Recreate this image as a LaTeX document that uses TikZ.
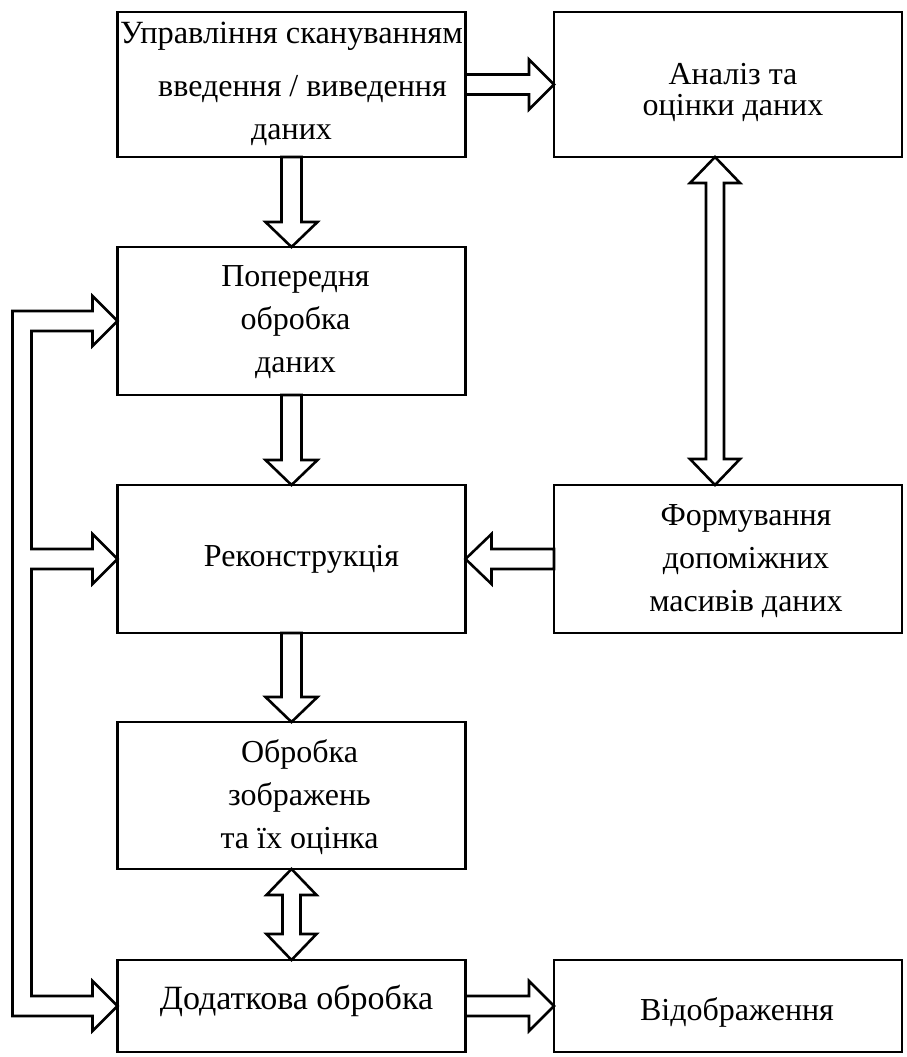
\documentclass[tikz,border=0pt]{standalone}
\usepackage{fontspec}
\setmainfont{Liberation Serif}
\usetikzlibrary{calc}
\tikzset{
  box/.style={draw, line width=2.6pt, minimum width=348pt, inner sep=0pt, outer sep=0pt},
  txt/.style={align=center, inner sep=0pt, font=\fontsize{32}{43}\selectfont},
  blk/.style={draw, fill=white, line width=2.6pt, line join=miter}
}
\newcommand\rarrow[2]{\draw[blk] let \p1=(#1), \p2=(#2) in (\x1,\y1+10pt) -- (\x2-25pt,\y1+10pt) -- (\x2-25pt,\y1+25pt) -- (\x2,\y1) -- (\x2-25pt,\y1-25pt) -- (\x2-25pt,\y1-10pt) -- (\x1,\y1-10pt) -- cycle;}
\newcommand\larrow[2]{\draw[blk] let \p1=(#1), \p2=(#2) in (\x1,\y1+10pt) -- (\x2+26pt,\y1+10pt) -- (\x2+26pt,\y1+25pt) -- (\x2,\y1) -- (\x2+26pt,\y1-25pt) -- (\x2+26pt,\y1-10pt) -- (\x1,\y1-10pt) -- cycle;}
\newcommand\darrow[2]{\draw[blk] let \p1=(#1), \p2=(#2) in (\x1-10pt,\y1) -- (\x1-10pt,\y2+25pt) -- (\x1-26pt,\y2+25pt) -- (\x1,\y2) -- (\x1+26pt,\y2+25pt) -- (\x1+10pt,\y2+25pt) -- (\x1+10pt,\y1) -- cycle;}
\newcommand\dblv[2]{\draw[blk] let \p1=(#1), \p2=(#2) in (\x1,\y1) -- (\x1+25pt,\y1-26pt) -- (\x1+9pt,\y1-26pt) -- (\x1+9pt,\y2+26pt) -- (\x1+25pt,\y2+26pt) -- (\x1,\y2) -- (\x1-25pt,\y2+26pt) -- (\x1-9pt,\y2+26pt) -- (\x1-9pt,\y1-26pt) -- (\x1-25pt,\y1-26pt) -- cycle;}
\begin{document}
\begin{tikzpicture}[x=1pt,y=-1pt]
\useasboundingbox (0,0) rectangle (907,1057);
% boxes
\node[box, minimum height=145pt] (b1) at (291.5,84.5) {};
\node[box, minimum height=145pt] (b2) at (728,84.5) {};
\node[box, minimum height=148pt] (b3) at (291.5,321) {};
\node[box, minimum height=148pt] (b4) at (291.5,559) {};
\node[box, minimum height=148pt] (b5) at (728,559) {};
\node[box, minimum height=147pt] (b6) at (291.5,795.5) {};
\node[box, minimum height=92pt] (b7) at (291.5,1006) {};
\node[box, minimum height=92pt] (b8) at (728,1006) {};
% texts
\node[txt] (t1) at ($(b1)+(0,-1)$) {{\fontsize{32.4}{43}\selectfont Управління скануванням}\\[10pt]\hspace*{22pt}введення / виведення\\[0pt]даних};
\node[txt] (t2) at ($(b2)+(5,8)$) {Аналіз та\\[-12pt]оцінки даних};
\node[txt] (t3) at ($(b3)+(4,1)$) {Попередня\\обробка\\даних};
\node[txt] (t4) at ($(b4)+(10,0)$) {Реконструкція};
\node[txt] (t5) at ($(b5)+(18,2)$) {Формування\\допоміжних\\масивів даних};
\node[txt] (t6) at ($(b6)+(8,2)$) {Обробка\\зображень\\та їх оцінка};
\node[txt, font=\fontsize{34}{43}\selectfont] (t7) at ($(b7)+(5,-5)$) {Додаткова обробка};
\node[txt] (t8) at ($(b8)+(9,6)$) {Відображення};
% arrows
\rarrow{b1.east}{b2.west}
\darrow{b1.south}{b3.north}
\darrow{b3.south}{b4.north}
\darrow{b4.south}{b6.north}
\larrow{b5.west}{b4.east}
\rarrow{b7.east}{b8.west}
\coordinate (u2) at ($(b2.south)+(-13,0)$);
\coordinate (u5) at ($(b5.north)+(-13,0)$);
\dblv{u2}{u5}
\dblv{b6.south}{b7.north}
% left feedback pipe
\draw[blk] let \p3=(b3.west), \p4=(b4.west), \p7=(b7.west) in
  (\p3) -- (\x3-25pt,\y3+25pt) -- (\x3-25pt,\y3+10pt) -- (\x3-105pt,\y3+10pt)
  -- (\x3-105pt,\y7-10pt) -- (\x7-25pt,\y7-10pt) -- (\x7-25pt,\y7-25pt) -- (\p7)
  -- (\x7-25pt,\y7+25pt) -- (\x7-25pt,\y7+10pt) -- (\x7-86pt,\y7+10pt)
  -- (\x4-86pt,\y4-10pt) -- (\x4-25pt,\y4-10pt) -- (\x4-25pt,\y4-25pt) -- (\p4)
  -- (\x4-25pt,\y4+25pt) -- (\x4-25pt,\y4+10pt) -- (\x4-86pt,\y4+10pt)
  -- (\x3-86pt,\y3-10pt) -- (\x3-25pt,\y3-10pt) -- (\x3-25pt,\y3-25pt) -- cycle;
\end{tikzpicture}
\end{document}
